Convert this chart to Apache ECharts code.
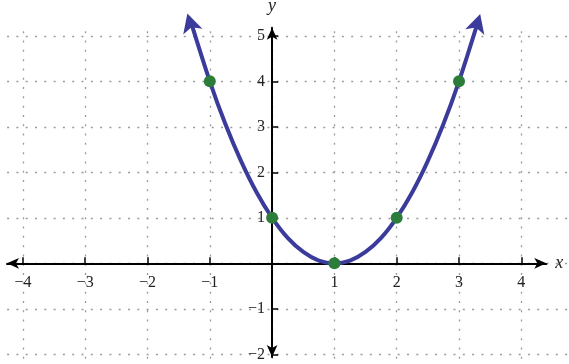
<!DOCTYPE html>
<html><head><meta charset="utf-8">
<script src="https://cdn.jsdelivr.net/npm/echarts@6/dist/echarts.min.js"></script>
<style>html,body{margin:0;padding:0;background:#fff}#c{width:569px;height:364px}</style>
</head><body><div id="c"></div>
<script>
// ---- data ----
const xTickValues = [-4, -3, -2, -1, 1, 2, 3, 4];
const yTickValues = [-2, -1, 1, 2, 3, 4, 5];
const curveX = [-1.3, -1, -0.75, -0.5, -0.25, 0, 0.25, 0.5, 0.75, 1, 1.25, 1.5, 1.75, 2, 2.25, 2.5, 2.75, 3, 3.28];
const curveY = [5.29, 4, 3.06, 2.25, 1.56, 1, 0.56, 0.25, 0.06, 0, 0.06, 0.25, 0.56, 1, 1.56, 2.25, 3.06, 4, 5.2];
const pointX = [-1, 0, 1, 2, 3];
const pointY = [4, 1, 0, 1, 4];
const arrowX = [-1.36, 3.34];
const arrowY = [5.49, 5.48];
const arrowRotate = [16.6, -16.6];

const FONT = 'Liberation Serif';
const BLUE = '#3b3b9b';
const GREEN = '#2c7d3a';
const fmt = v => (v < 0 ? '\u2212' + Math.abs(v) : String(v));

const chart = echarts.init(document.getElementById('c'), null, {renderer: 'canvas'});
const grid = {color: '#9a9a9a', width: 1.3, type: [2, 7.3]};
const hidden = {show: false};

chart.setOption({
  animation: false,
  grid: [
    // background dotted grid + data
    {left: -39.4, right: -14.6, top: 31.25, bottom: -35.8, outerBoundsMode: 'none', containLabel: false},
    // x-axis grid: bottom edge at y = 0
    {left: 7, right: 22.7, top: 0, bottom: 100.7, outerBoundsMode: 'none', containLabel: false},
    // y-axis grid: left edge at x = 0
    {left: 272.1, right: 0, top: 27.7, bottom: 7, outerBoundsMode: 'none', containLabel: false}
  ],
  xAxis: [
    {gridIndex: 0, type: 'value', min: -5, max: 5, interval: 1,
     axisLine: hidden, axisTick: hidden, axisLabel: hidden,
     splitLine: {show: true, lineStyle: grid}},
    {gridIndex: 1, type: 'value', position: 'bottom', min: -4.255, max: 4.401,
     name: 'x', nameLocation: 'end', nameGap: 9,
     nameTextStyle: {fontFamily: FONT, fontStyle: 'italic', fontSize: 18, color: '#222'},
     axisLine: {onZero: false, symbol: ['arrow', 'arrow'], symbolSize: [8, 12],
                lineStyle: {color: '#000', width: 2}},
     axisTick: {show: true, inside: true, length: 6, customValues: xTickValues,
                lineStyle: {color: '#000', width: 1.5}},
     axisLabel: {customValues: xTickValues, formatter: fmt, margin: 11,
                 fontFamily: FONT, fontSize: 16, color: '#222'},
     splitLine: hidden},
    {gridIndex: 2, type: 'value', min: 0, max: 1, show: false}
  ],
  yAxis: [
    {gridIndex: 0, type: 'value', min: -3, max: 5.1, interval: 1,
     axisLine: hidden, axisTick: hidden, axisLabel: hidden,
     splitLine: {show: true, showMaxLine: false, lineStyle: grid}},
    {gridIndex: 1, type: 'value', min: 0, max: 1, show: false},
    {gridIndex: 2, type: 'value', position: 'left', min: -2.059, max: 5.178,
     name: 'y', nameLocation: 'end', nameGap: 12,
     nameTextStyle: {fontFamily: FONT, fontStyle: 'italic', fontSize: 18, color: '#222'},
     axisLine: {onZero: false, symbol: ['arrow', 'arrow'], symbolSize: [8, 12],
                lineStyle: {color: '#000', width: 2}},
     axisTick: {show: true, inside: true, length: 6, customValues: yTickValues,
                lineStyle: {color: '#000', width: 1.5}},
     axisLabel: {customValues: yTickValues, margin: 7, align: 'right', formatter: fmt,
                 fontFamily: FONT, fontSize: 16, color: '#222'},
     splitLine: hidden}
  ],
  series: [
    {type: 'line', xAxisIndex: 0, yAxisIndex: 0, clip: false, smooth: 0.3,
     symbol: 'none', lineStyle: {color: BLUE, width: 4}, z: 3,
     data: curveX.map((x, i) => [x, curveY[i]])},
    {type: 'scatter', xAxisIndex: 0, yAxisIndex: 0, clip: false, z: 4,
     symbol: 'arrow', symbolSize: [15, 19],
     itemStyle: {color: BLUE, opacity: 1},
     data: arrowX.map((x, i) => ({value: [x, arrowY[i]], symbolRotate: arrowRotate[i]}))},
    {type: 'scatter', xAxisIndex: 0, yAxisIndex: 0, clip: false, z: 5,
     symbol: 'circle', symbolSize: 12, itemStyle: {color: GREEN, opacity: 1},
     data: pointX.map((x, i) => [x, pointY[i]])}
  ]
});
</script></body></html>
